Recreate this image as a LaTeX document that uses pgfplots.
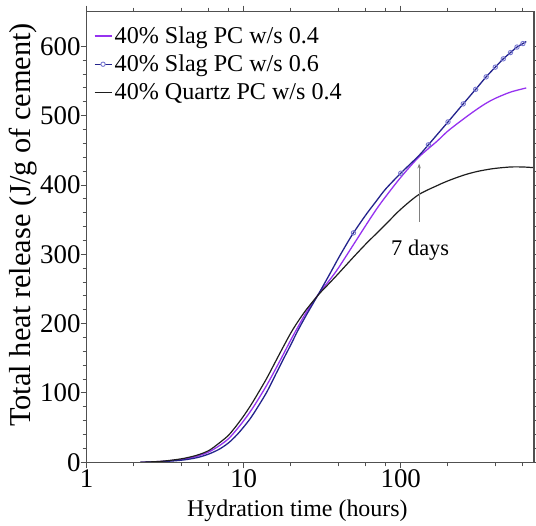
\documentclass[border=0pt]{standalone}
\usepackage{fontspec}
\setmainfont{Liberation Serif}
\usepackage{pgfplots}
\pgfplotsset{compat=1.18}
\usetikzlibrary{calc,arrows.meta}

\definecolor{slagA}{RGB}{150,50,240}
\definecolor{slagB}{RGB}{35,35,140}
\definecolor{slagBmark}{RGB}{120,120,210}
\definecolor{quartz}{RGB}{30,30,30}
\definecolor{axisgray}{RGB}{80,80,80}

\begin{document}
\begin{tikzpicture}
\begin{axis}[
  name=ax,
  scale only axis,
  width=447.3bp, height=450.6bp,
  xmode=log,
  xmin=1, xmax=706, ymin=0, ymax=650,
  xtick={1,10,100}, xticklabels={1,10,100},
  minor xtick={2,4,6,8,20,40,60,80,200,400,600},
  ytick={0,100,...,600}, minor y tick num=4,
  tick align=outside,
  major tick length=6bp, minor tick length=4bp,
  axis line style={axisgray, line width=1.3bp},
  every tick/.style={axisgray, line width=1bp},
  /pgf/number format/assume math mode=true,
  ticklabel style={font=\fontsize{27}{30}\selectfont},
  xticklabel style={anchor=north, inner sep=0pt, yshift=-1.5bp},
  yticklabel style={anchor=east, inner sep=0pt},
  xlabel={Hydration time (hours)},
  ylabel={Total heat release (J/g of cement)},
  xlabel style={font=\fontsize{24}{28}\selectfont, at={(axis description cs:0.471,0)}, anchor=base, yshift=-54.4bp},
  ylabel style={font=\fontsize{30.5}{34}\selectfont, at={(axis description cs:-0.1431,0.527)}, anchor=center},
  legend cell align=left,
  legend image code/.code={\draw[#1] (0bp,0bp) -- (17bp,0bp);},
  legend style={draw=none, fill=none, at={(axis description cs:0,1)}, anchor=north west,
    xshift=7bp, yshift=-12.5bp, inner sep=0pt,
    font=\fontsize{24.2}{27}\selectfont, row sep=5bp,
    nodes={inner sep=2.5bp}},
]
\addplot[slagA, line width=1.3bp, smooth] coordinates {
(2.2,0) (3,1.3) (4,4) (5,8.5) (6,15) (7,24) (8,34) (9,47) (10,60) (11,73) (12,86)
(14,111) (16,135) (18,157) (20,177) (22,194) (25,216) (30,243) (35,262) (40,280)
(50,314) (60,342) (70,365) (80,383) (100,411) (130,440) (170,463) (200,478)
(250,495) (300,508) (350,518) (400,525) (500,534) (630,540)
};
\addlegendentry{40\% Slag PC w/s 0.4}
\addplot[slagB, line width=1.3bp, smooth,
  legend image code/.code={\draw[slagB, line width=1.3bp] (0bp,0bp) -- (17bp,0bp);
    \draw[slagBmark, line width=0.9bp, fill=white] (8.5bp,0bp) circle (2.2bp);}] coordinates {
(2.2,0) (3,1) (4,3) (5,6.5) (6,12) (7,19) (8,28) (9,39) (10,51) (11,63) (12,76)
(14,101) (16,127) (18,150) (20,170) (22,189) (25,212) (30,243) (35,270) (40,294)
(45,314) (50,331) (60,357) (70,377) (80,394) (100,417) (130,442) (150,458) (200,491)
(250,517) (300,538) (350,556) (400,570) (450,582) (500,591) (550,599) (600,604) (630,607)
};
\addlegendentry{40\% Slag PC w/s 0.6}
\addplot[quartz, line width=1.2bp, smooth] coordinates {
(2.2,0) (3,1.5) (4,5) (5,10) (6,17) (7,28) (8,39) (9,53) (10,67) (11,81) (12,95)
(14,121) (16,146) (18,168) (20,187) (22,202) (25,220) (30,242) (35,258) (40,272)
(50,296) (60,315) (70,330) (80,343) (100,365) (130,386) (170,399) (200,406)
(250,414) (300,419) (350,422) (400,424) (500,426) (600,426) (706,425)
};
\addlegendentry{40\% Quartz PC w/s 0.4}
\addplot[only marks, mark=o, mark size=2.2bp, slagBmark, line width=0.9bp, forget plot] coordinates {
(50,331) (100,417) (150,458) (200,491) (250,517) (300,538) (350,556) (400,570)
(450,582) (500,591) (550,599) (600,604)
};
\draw[gray, line width=1.2bp, -{Stealth[length=5bp, width=3.5bp]}] (axis cs:131,347) -- (axis cs:131,431);
\node[font=\fontsize{22.5}{26}\selectfont, anchor=base] at (axis cs:133,299) {7 days};
\end{axis}
\draw[axisgray, line width=1.3bp] (ax.south west) rectangle (ax.north east);
\pgfresetboundingbox
\path[use as bounding box] ($(ax.south west)+(-86.7bp,-63.7bp)$) rectangle ($(ax.north east)+(2bp,11.7bp)$);
\end{tikzpicture}
\end{document}
